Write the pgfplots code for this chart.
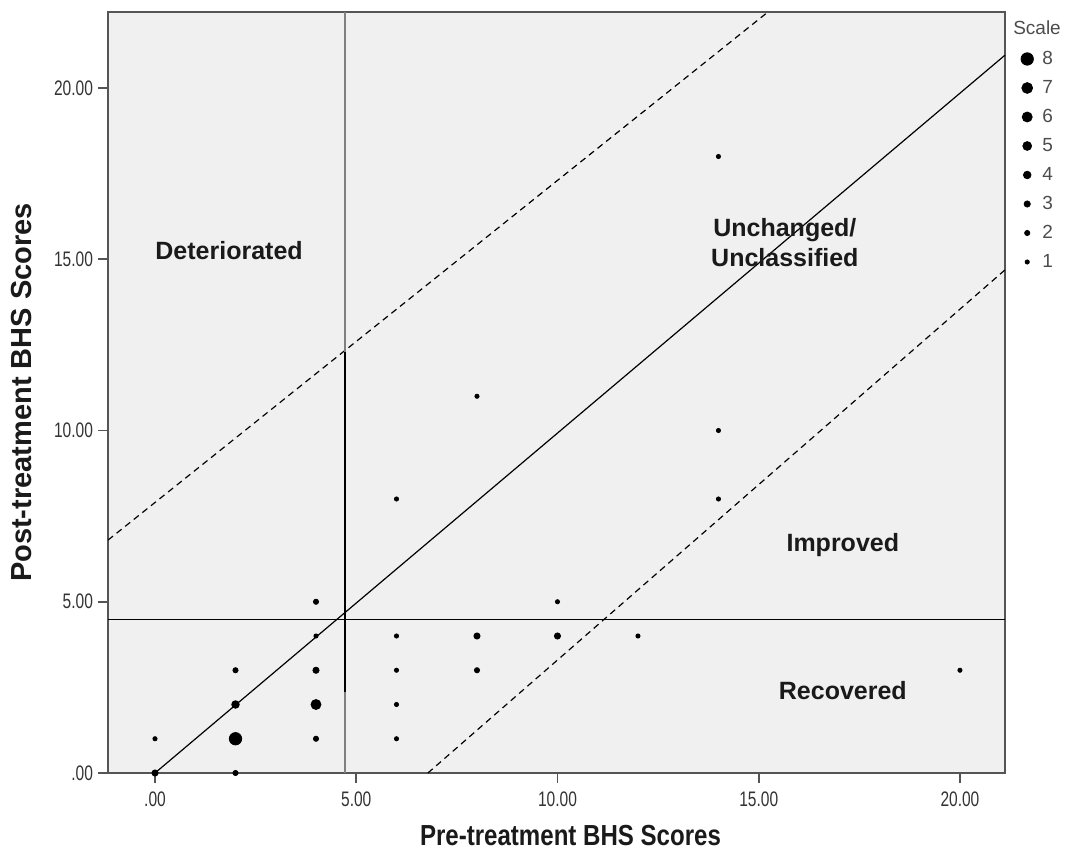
\documentclass[border=0pt]{standalone}
\usepackage{fontspec}
\setmainfont{Liberation Sans}
\newfontfamily\condfont{Liberation Sans}[FakeStretch=0.83]
\newfontfamily\tickfont{Liberation Sans}[FakeStretch=0.74]
\usepackage{pgfplots}
\pgfplotsset{compat=1.18}
\definecolor{bgc}{HTML}{F0F0F0}
\definecolor{framec}{HTML}{555555}
\definecolor{txtc}{HTML}{1A1A1A}
\begin{document}
\begin{tikzpicture}
\useasboundingbox (-54pt,-38pt) rectangle (480pt,386.5pt);
\begin{axis}[
  at={(0,0)}, anchor=south west,
  scale only axis, width=448.5pt, height=380.5pt,
  xmin=-1.168, xmax=21.12, ymin=0, ymax=22.22,
  clip=false,
  axis background/.style={fill=bgc},
  axis line style={framec, line width=1pt},
  xtick={0,5,10,15,20}, xticklabels={.00,5.00,10.00,15.00,20.00},
  ytick={0,5,10,15,20}, yticklabels={.00,5.00,10.00,15.00,20.00},
  tick pos=left, tick align=outside,
  major tick length=5pt,
  tick style={framec, line width=0.8pt},
  tick label style={font=\tickfont\fontsize{10.5}{12}\selectfont, text=black!80},
  yticklabel style={xshift=1pt},
  xticklabel style={yshift=-1pt},
  xlabel={\condfont\bfseries\fontsize{14.5}{16}\selectfont Pre-treatment BHS Scores},
  ylabel={\bfseries\fontsize{14.5}{16}\selectfont Post-treatment BHS Scores},
  xlabel style={at={(axis description cs:0.5156,-0.0815)}, anchor=center, text=txtc},
  ylabel style={at={(axis description cs:-0.0959,0.5)}, anchor=center, text=txtc},
  legend style={at={(rel axis cs:1,1)}, anchor=north west, xshift=8pt, yshift=-16.25pt,
    draw=none, fill=none, inner sep=0pt, outer sep=0pt,
    font=\fontsize{9.5}{11}\selectfont, text=black!70,
    nodes={inner sep=0pt, minimum height=14.5pt},
    /tikz/every odd column/.append style={column sep=4.5pt},
    /tikz/every even column/.append style={column sep=0pt}},
  legend cell align=left,
]
\addlegendimage{only marks, mark=*, mark size=3.1pt, black}\addlegendentry{8}
\addlegendimage{only marks, mark=*, mark size=2.7pt, black}\addlegendentry{7}
\addlegendimage{only marks, mark=*, mark size=2.5pt, black}\addlegendentry{6}
\addlegendimage{only marks, mark=*, mark size=2.2pt, black}\addlegendentry{5}
\addlegendimage{only marks, mark=*, mark size=1.9pt, black}\addlegendentry{4}
\addlegendimage{only marks, mark=*, mark size=1.55pt, black}\addlegendentry{3}
\addlegendimage{only marks, mark=*, mark size=1.3pt, black}\addlegendentry{2}
\addlegendimage{only marks, mark=*, mark size=1.05pt, black}\addlegendentry{1}

% reference lines
\addplot[black, line width=0.6pt, forget plot] coordinates {(0,0) (21.12,20.96)};
\addplot[black, line width=0.6pt, dash pattern=on 3.2pt off 2.3pt, forget plot] coordinates {(-1.168,6.80) (15.23,22.22)};
\addplot[black, line width=0.6pt, dash pattern=on 3.2pt off 2.3pt, forget plot] coordinates {(6.78,0) (21.12,14.69)};
\addplot[black, line width=0.6pt, forget plot] coordinates {(-1.168,4.49) (21.12,4.49)};
\addplot[black!50, line width=0.6pt, forget plot] coordinates {(4.72,0) (4.72,2.36)};
\addplot[black, line width=0.6pt, forget plot] coordinates {(4.72,2.36) (4.72,12.29)};
\addplot[black!50, line width=0.6pt, forget plot] coordinates {(4.72,12.29) (4.72,22.22)};

% data points by scale
\addplot[only marks, mark=*, mark size=1.05pt, black, forget plot] coordinates {
 (0,1) (4,4) (6,1) (6,2) (6,3) (6,4) (6,8) (8,11) (10,5) (12,4) (14,8) (14,10) (14,18) (20,3)};
\addplot[only marks, mark=*, mark size=1.3pt, black, forget plot] coordinates {
 (2,0) (2,3) (4,1) (4,5) (8,3)};
\addplot[only marks, mark=*, mark size=1.55pt, black, forget plot] coordinates {
 (0,0) (4,3) (8,4) (10,4)};
\addplot[only marks, mark=*, mark size=1.9pt, black, forget plot] coordinates {(2,2)};
\addplot[only marks, mark=*, mark size=2.5pt, black, forget plot] coordinates {(4,2)};
\addplot[only marks, mark=*, mark size=3.1pt, black, forget plot] coordinates {(2,1)};

\node[font=\bfseries\fontsize{12.5}{15}\selectfont, text=txtc] at (axis cs:1.84,15.24) {Deteriorated};
\node[font=\bfseries\fontsize{12.5}{15}\selectfont, text=txtc, align=center] at (axis cs:15.65,15.5) {Unchanged/\\Unclassified};
\node[font=\bfseries\fontsize{12.5}{15}\selectfont, text=txtc] at (axis cs:17.09,6.66) {Improved};
\node[font=\bfseries\fontsize{12.5}{15}\selectfont, text=txtc] at (axis cs:17.09,2.42) {Recovered};
\node[font=\fontsize{9.5}{11}\selectfont, text=black!70] at (rel axis cs:1.0357,0.979) {Scale};
\end{axis}
\end{tikzpicture}
\end{document}
